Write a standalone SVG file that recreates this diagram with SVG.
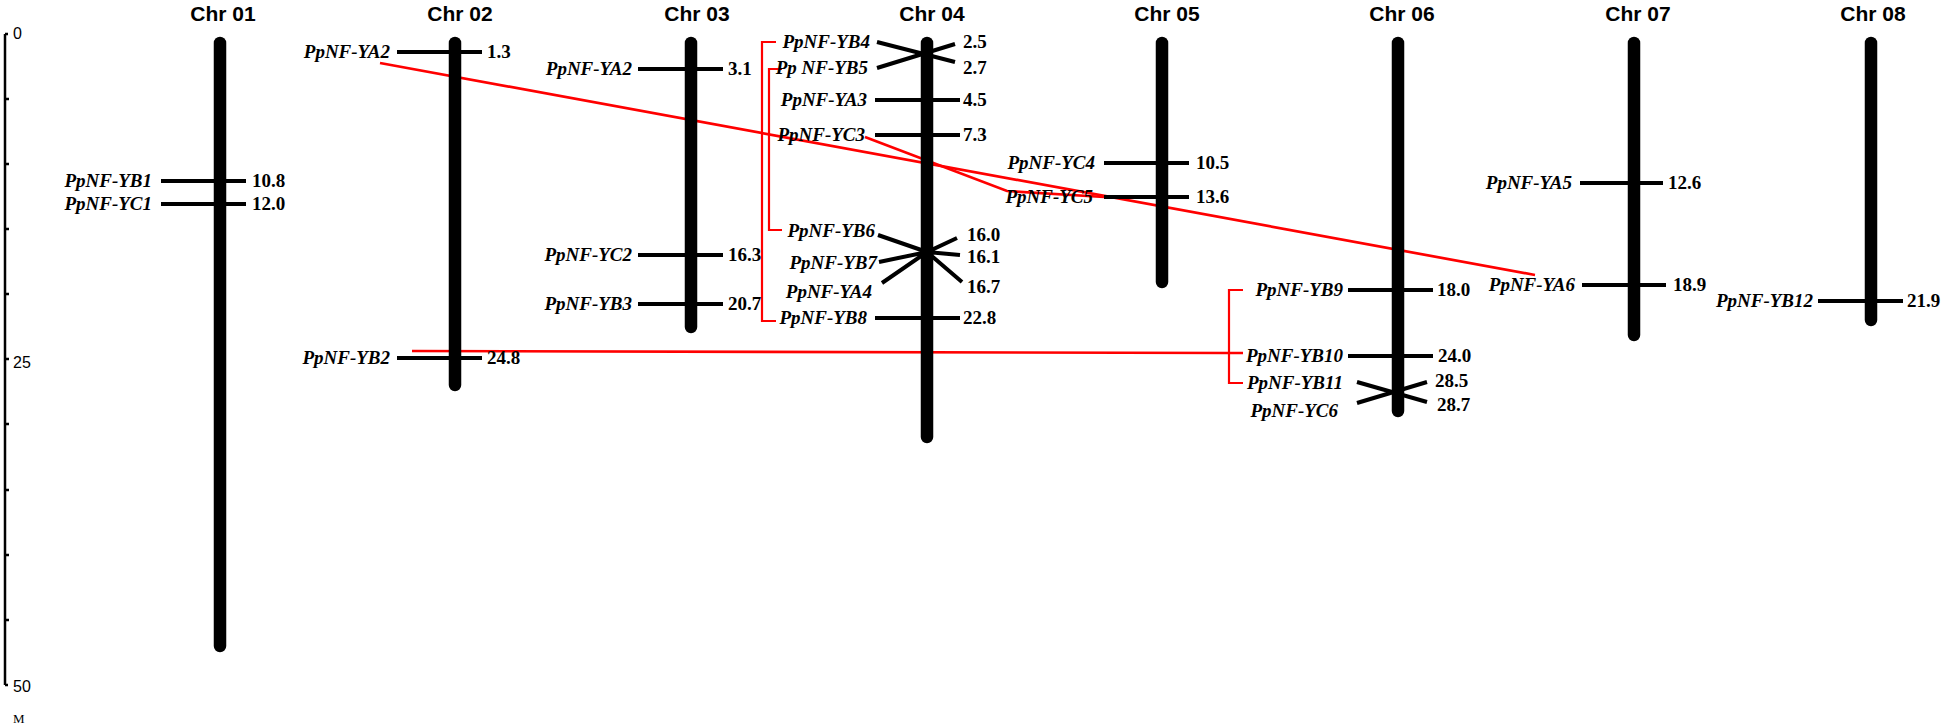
<svg xmlns="http://www.w3.org/2000/svg" width="1946" height="726" viewBox="0 0 1946 726">
<style>
.bg{fill:#fff}
.chr{stroke:#000;stroke-width:12.5;stroke-linecap:round;fill:none}
.tick{stroke:#000;stroke-width:4;fill:none}
.title{font-family:"Liberation Sans",Arial,sans-serif;font-weight:bold;font-size:21px;fill:#000;text-anchor:middle}
.gene{font-family:"Liberation Serif","Times New Roman",serif;font-weight:bold;font-style:italic;font-size:19px;fill:#000;text-anchor:end}
.pos{font-family:"Liberation Serif","Times New Roman",serif;font-weight:bold;font-size:19px;fill:#000}
.ax{stroke:#000;stroke-width:2.5;fill:none}
.axt{font-family:"Liberation Sans",Arial,sans-serif;font-size:16px;fill:#000}
.red{stroke:#f00;stroke-width:2.7;fill:none}
.redb{stroke:#f00;stroke-width:2.2;fill:none}
</style>
<rect class="bg" x="0" y="0" width="1946" height="726"/>

<g id="axis">
<path class="ax" d="M5,34 V685 M5,34 H8 M5,685 H8"/>
<path class="ax" stroke-width="1.5" d="M5,99 H9 M5,164 H9 M5,229 H9 M5,294 H9 M5,359 H9 M5,424 H9 M5,490 H9 M5,555 H9 M5,620 H9"/>
<text class="axt" x="13" y="39">0</text>
<text class="axt" x="13" y="368">25</text>
<text class="axt" x="13" y="692">50</text>
<text x="13" y="723" style="font-family:'Liberation Serif',serif;font-size:13px">M</text>
</g>

<g id="connectors">
<line class="red" x1="380" y1="63" x2="1535" y2="275"/>
<polyline class="red" points="865,137 1007,191 1104,197"/>
<polyline class="red" points="412,351 1229,353 1243,353"/>
<polyline class="redb" points="776,42 762,42 762,321 776,321"/>
<polyline class="redb" points="782,69 769,69 769,230 782,230"/>
<polyline class="redb" points="1243,290 1229,290 1229,383 1243,383"/>
</g>

<g id="chr01">
<text class="title" x="223" y="21">Chr 01</text>
<line class="chr" x1="220" y1="43" x2="220" y2="646"/>
<line class="tick" x1="161" y1="181" x2="246" y2="181"/>
<line class="tick" x1="161" y1="204" x2="246" y2="204"/>
<text class="gene" x="152" y="187">PpNF-YB1</text>
<text class="gene" x="152" y="210">PpNF-YC1</text>
<text class="pos" x="252" y="187">10.8</text>
<text class="pos" x="252" y="210">12.0</text>
</g>

<g id="chr02">
<text class="title" x="460" y="21">Chr 02</text>
<line class="chr" x1="455" y1="43" x2="455" y2="385"/>
<line class="tick" x1="397" y1="52" x2="482" y2="52"/>
<line class="tick" x1="397" y1="358" x2="482" y2="358"/>
<text class="gene" x="390" y="58">PpNF-YA2</text>
<text class="gene" x="390" y="364">PpNF-YB2</text>
<text class="pos" x="487" y="58">1.3</text>
<text class="pos" x="487" y="364">24.8</text>
</g>

<g id="chr03">
<text class="title" x="697" y="21">Chr 03</text>
<line class="chr" x1="691" y1="43" x2="691" y2="327"/>
<line class="tick" x1="638" y1="69" x2="723" y2="69"/>
<line class="tick" x1="638" y1="255" x2="723" y2="255"/>
<line class="tick" x1="638" y1="304" x2="723" y2="304"/>
<text class="gene" x="632" y="75">PpNF-YA2</text>
<text class="gene" x="632" y="261">PpNF-YC2</text>
<text class="gene" x="632" y="310">PpNF-YB3</text>
<text class="pos" x="728" y="75">3.1</text>
<text class="pos" x="728" y="261">16.3</text>
<text class="pos" x="728" y="310">20.7</text>
</g>

<g id="chr04">
<text class="title" x="932" y="21">Chr 04</text>
<line class="chr" x1="927" y1="43" x2="927" y2="437"/>
<path class="tick" d="M877,42 L955,62 M877,68 L955,44"/>
<line class="tick" x1="875" y1="100" x2="960" y2="100"/>
<line class="tick" x1="875" y1="135" x2="960" y2="135"/>
<path class="tick" d="M878,235 L927,252 L957,238 M879,262 L927,252 L960,255 M882,283 L927,252 L962,282"/>
<line class="tick" x1="875" y1="318" x2="960" y2="318"/>
<text class="gene" x="870" y="48">PpNF-YB4</text>
<text class="gene" x="868" y="74">Pp NF-YB5</text>
<text class="gene" x="867" y="106">PpNF-YA3</text>
<text class="gene" x="865" y="141">PpNF-YC3</text>
<text class="gene" x="875" y="237">PpNF-YB6</text>
<text class="gene" x="877" y="269">PpNF-YB7</text>
<text class="gene" x="872" y="298">PpNF-YA4</text>
<text class="gene" x="867" y="324">PpNF-YB8</text>
<text class="pos" x="963" y="48">2.5</text>
<text class="pos" x="963" y="74">2.7</text>
<text class="pos" x="963" y="106">4.5</text>
<text class="pos" x="963" y="141">7.3</text>
<text class="pos" x="967" y="241">16.0</text>
<text class="pos" x="967" y="263">16.1</text>
<text class="pos" x="967" y="293">16.7</text>
<text class="pos" x="963" y="324">22.8</text>
</g>

<g id="chr05">
<text class="title" x="1167" y="21">Chr 05</text>
<line class="chr" x1="1162" y1="43" x2="1162" y2="282"/>
<line class="tick" x1="1104" y1="163" x2="1189" y2="163"/>
<line class="tick" x1="1104" y1="197" x2="1189" y2="197"/>
<text class="gene" x="1095" y="169">PpNF-YC4</text>
<text class="gene" x="1093" y="203">PpNF-YC5</text>
<text class="pos" x="1196" y="169">10.5</text>
<text class="pos" x="1196" y="203">13.6</text>
</g>

<g id="chr06">
<text class="title" x="1402" y="21">Chr 06</text>
<line class="chr" x1="1398" y1="43" x2="1398" y2="411"/>
<line class="tick" x1="1348" y1="290" x2="1433" y2="290"/>
<line class="tick" x1="1348" y1="356" x2="1433" y2="356"/>
<path class="tick" d="M1357,382 L1427,402 M1357,403 L1427,382"/>
<text class="gene" x="1343" y="296">PpNF-YB9</text>
<text class="gene" x="1343" y="362">PpNF-YB10</text>
<text class="gene" x="1343" y="389">PpNF-YB11</text>
<text class="gene" x="1338" y="417">PpNF-YC6</text>
<text class="pos" x="1437" y="296">18.0</text>
<text class="pos" x="1438" y="362">24.0</text>
<text class="pos" x="1435" y="387">28.5</text>
<text class="pos" x="1437" y="411">28.7</text>
</g>

<g id="chr07">
<text class="title" x="1638" y="21">Chr 07</text>
<line class="chr" x1="1634" y1="43" x2="1634" y2="335"/>
<line class="tick" x1="1580" y1="183" x2="1663" y2="183"/>
<line class="tick" x1="1582" y1="285" x2="1666" y2="285"/>
<text class="gene" x="1572" y="189">PpNF-YA5</text>
<text class="gene" x="1575" y="291">PpNF-YA6</text>
<text class="pos" x="1668" y="189">12.6</text>
<text class="pos" x="1673" y="291">18.9</text>
</g>

<g id="chr08">
<text class="title" x="1873" y="21">Chr 08</text>
<line class="chr" x1="1871" y1="43" x2="1871" y2="320"/>
<line class="tick" x1="1818" y1="301" x2="1903" y2="301"/>
<text class="gene" x="1813" y="307">PpNF-YB12</text>
<text class="pos" x="1907" y="307">21.9</text>
</g>
</svg>
